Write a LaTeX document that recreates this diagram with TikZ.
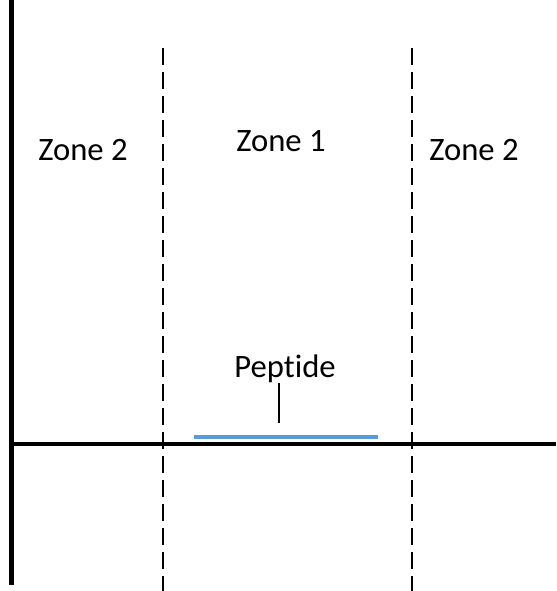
\documentclass[tikz,border=0pt]{standalone}
\usepackage{fontspec}
\setmainfont[Ligatures=NoCommon]{Carlito}
\definecolor{peptideblue}{RGB}{91,155,213}
\tikzset{
  zonelabel/.style={anchor=base,inner sep=0pt,font=\fontsize{24.5}{29}\selectfont},
  border/.style={dash pattern=on 12.75pt off 5.25pt,line width=1.5pt},
}
\begin{document}
\begin{tikzpicture}[x=0.75pt,y=-0.75pt]
        \useasboundingbox (0,0) rectangle (556,591);
        \draw[line width=3.75pt] (11.5,0) -- (11.5,585);
        \draw[line width=3pt] (9,444) -- (556,444);
        \draw[border] (163,48) -- (163,591);
        \draw[border] (412,48) -- (412,591);
        \node[zonelabel] (zoneL) at (83,161) {Zone 2};
        \node[zonelabel] (zoneC) at (281,152) {Zone 1};
        \node[zonelabel] (zoneR) at (474,161) {Zone 2};
        \coordinate (pepA) at (194,437);
        \coordinate (pepB) at (378,437);
        \draw[peptideblue,line width=3pt] (pepA) -- (pepB);
        \node[zonelabel] (pep) at (285,377) {Peptide};
        \coordinate (tickTop) at (279,383);
        \coordinate (tickEnd) at (279,423);
        \draw[line width=1.2pt] (tickTop) -- (tickEnd);
      \end{tikzpicture}
\end{document}
